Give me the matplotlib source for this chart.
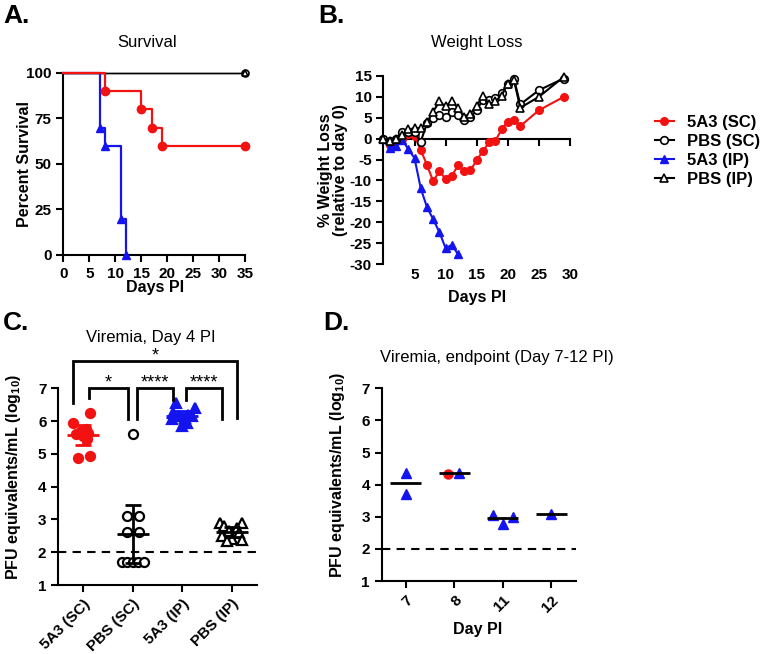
import matplotlib
matplotlib.use("Agg")
import matplotlib.pyplot as plt
import numpy as np

plt.rcParams['font.family'] = ['Liberation Sans', 'DejaVu Sans']
plt.rcParams['font.weight'] = 'bold'
plt.rcParams['axes.labelweight'] = 'bold'
plt.rcParams['axes.unicode_minus'] = False
plt.rcParams['mathtext.fontset'] = 'custom'
plt.rcParams['mathtext.rm'] = 'Liberation Sans:bold'
plt.rcParams['mathtext.default'] = 'rm'
plt.rcParams['axes.linewidth'] = 1.5

RED = '#f21212'
BLUE = '#1414ee'

# A. survival
surv_day_5a3_sc = [0, 8, 15, 17, 19, 35]
surv_pct_5a3_sc = [100, 90, 80, 70, 60, 60]
surv_day_5a3_ip = [0, 7, 8, 11, 12]
surv_pct_5a3_ip = [100, 70, 60, 20, 0]
surv_day_pbs = [0, 35]
surv_pct_pbs = [100, 100]

# B. weight loss (% relative to day 0)
wl_day = list(range(23)) + [25, 29]
wl_5a3_sc = [0, -1.5, -0.5, 0, 1.0, 0.7, -2.7, -6.3, -10.2, -7.7, -9.7, -8.9, -6.4,
             -7.7, -7.5, -5.2, -2.9, -0.9, -0.5, 2.2, 4.1, 4.5, 3.0, 6.8, 10.0]
wl_pbs_sc = [0, -0.5, 0, 1.7, 1.5, 1.5, -0.7, 3.7, 4.9, 5.7, 5.3, 6.5, 5.7,
             4.5, 5.1, 6.9, 9.3, 9.3, 9.7, 10.9, 13.2, 14.3, 8.2, 11.6, 14.4]
wl_pbs_ip = [0, -0.5, 0, 0.8, 2.2, 2.5, 2.5, 3.9, 6.5, 8.9, 7.7, 9.0, 7.3,
             5.3, 6.0, 7.9, 10.3, 8.2, 9.0, 10.3, 13.2, 14.0, 7.4, 10.0, 14.8]
wl_day_ip = list(range(13))
wl_5a3_ip = [0, -2.2, -1.8, -0.3, -2.5, -4.7, -11.9, -16.4, -19.3, -22.4, -26.2, -25.4, -27.7]
series_names = ['5A3 (SC)', 'PBS (SC)', '5A3 (IP)', 'PBS (IP)']

# C. viremia day 4 (log10 PFU eq/mL)
c_5a3_sc = [6.25, 5.95, 5.75, 5.70, 5.65, 5.60, 5.55, 5.45, 4.93, 4.88]
c_pbs_sc = [5.6, 3.1, 3.1, 2.63, 2.63, 1.7, 1.7, 1.7, 1.7, 1.7]
c_5a3_ip = [6.55, 6.40, 6.25, 6.20, 6.15, 6.15, 6.10, 6.05, 5.95, 5.85]
c_pbs_ip = [2.9, 2.9, 2.8, 2.75, 2.65, 2.6, 2.5, 2.4, 2.38, 2.35]
detect_limit = 2.0

# D. viremia at endpoint
d_days = ['7', '8', '11', '12']
d_ip_day = ['7', '7', '8', '11', '11', '11', '12']
d_ip_val = [4.37, 3.72, 4.37, 3.06, 2.78, 3.00, 3.10]
d_sc_day = ['8']
d_sc_val = [4.33]

# horizontal scatter offsets (layout only)
c_offsets = [[0.14, -0.21, 0.05, -0.05, 0.10, -0.15, 0.0, 0.08, 0.14, -0.10],
             [0.0, -0.12, 0.12, -0.12, 0.12, -0.22, -0.11, 0.0, 0.11, 0.22],
             [-0.12, 0.25, -0.18, 0.12, -0.06, 0.20, 0.05, -0.20, 0.10, 0.0],
             [-0.24, 0.21, -0.15, 0.10, -0.05, 0.15, -0.20, 0.0, 0.20, -0.10]]
d_ip_off = [0, 0, 0.10, -0.21, 0, 0.21, 0]
d_sc_off = [-0.14]
T95 = 2.262  # t value, n=10


def style(ax):
    for s in ('top', 'right'):
        ax.spines[s].set_visible(False)
    ax.tick_params(width=1.5, length=5, labelsize=11)


fig = plt.figure(figsize=(7.7, 6.54), dpi=100)

# ---------------- A
axA = fig.add_axes([0.0822, 0.6101, 0.2364, 0.2783])
style(axA)
axA.plot(surv_day_pbs, surv_pct_pbs, color='k', lw=1, marker='o', mfc='white', ms=5,
         mew=1.2, markevery=[1], clip_on=False, zorder=2)
axA.plot(surv_day_pbs, surv_pct_pbs, color='k', lw=1, marker='^', mfc='white', ms=4,
         mew=1.2, markevery=[1], clip_on=False, zorder=2)
axA.plot(surv_day_5a3_ip, surv_pct_5a3_ip, drawstyle='steps-post', color=BLUE, lw=1.6,
         marker='^', ms=6, markevery=slice(1, None), clip_on=False, zorder=3)
axA.plot(surv_day_5a3_sc, surv_pct_5a3_sc, drawstyle='steps-post', color=RED, lw=1.6,
         marker='o', ms=6, markevery=slice(1, None), clip_on=False, zorder=4)
axA.set_xlim(0, 35)
axA.set_ylim(0, 100)
axA.set_xticks(range(0, 36, 5))
axA.set_yticks(range(0, 101, 25))
axA.set_xlabel('Days PI', fontsize=11.5)
axA.set_ylabel('Percent Survival', fontsize=11.5)
axA.xaxis.set_label_coords(0.505, -0.181)
axA.yaxis.set_label_coords(-0.211, 0.5)
axA.xaxis.label.set_va('center')
axA.yaxis.label.set_va('center')
axA.text(0.463, 1.17, 'Survival', transform=axA.transAxes, ha='center', va='center',
         fontsize=12, fontweight='normal')

# ---------------- B
axB = fig.add_axes([0.498, 0.5963, 0.2422, 0.2875])
style(axB)
axB.spines['bottom'].set_position(('data', 0))
kw = dict(lw=1.5, ms=5.5, clip_on=False)
l1, = axB.plot(wl_day, wl_5a3_sc, color=RED, marker='o', zorder=3, **kw)
l3, = axB.plot(wl_day_ip, wl_5a3_ip, color=BLUE, marker='^', zorder=3, **kw)
l2, = axB.plot(wl_day, wl_pbs_sc, color='k', marker='o', mfc='white', mew=1.2, zorder=4, **kw)
l4, = axB.plot(wl_day, wl_pbs_ip, color='k', marker='^', mfc='white', mew=1.2, zorder=4, **kw)
axB.set_xlim(0, 30)
axB.set_ylim(-30, 15)
axB.set_xticks(range(5, 31, 5))
axB.set_yticks(range(-30, 16, 5))
axB.tick_params(axis='x', labelbottom=False)
sec = axB.secondary_xaxis('bottom')
sec.set_xticks(range(5, 31, 5))
sec.tick_params(length=0, labelsize=11, pad=3)
sec.spines['bottom'].set_visible(False)
axB.set_xlabel('Days PI', fontsize=11.5)
axB.xaxis.set_label_coords(0.5, -0.179)
axB.xaxis.label.set_va('center')
axB.set_ylabel('% Weight Loss\n(relative to day 0)', fontsize=11.5, linespacing=1.0)
axB.yaxis.set_label_coords(-0.27, 0.5)
axB.yaxis.label.set_va('center')
axB.text(0.5, 1.18, 'Weight Loss', transform=axB.transAxes, ha='center', va='center',
         fontsize=12, fontweight='normal')

fig.legend([l1, l2, l3, l4], series_names, loc='center left',
           bbox_to_anchor=(0.851, 0.769), frameon=False, fontsize=12,
           handlelength=1.1, handletextpad=0.8, labelspacing=0.25,
           borderaxespad=0, borderpad=0)

# ---------------- C
axC = fig.add_axes([0.0757, 0.1055, 0.2577, 0.3008])
style(axC)
c_data = [c_5a3_sc, c_pbs_sc, c_5a3_ip, c_pbs_ip]
c_colors = [RED, 'k', BLUE, 'k']
c_markers = ['o', 'o', '^', '^']
c_fill = [RED, 'white', BLUE, 'white']
for i, vals in enumerate(c_data):
    vals = np.array(vals)
    x = i + np.array(c_offsets[i])
    axC.plot(x, vals, ls='none', marker=c_markers[i], mfc=c_fill[i], mec=c_colors[i],
             ms=6.5, mew=1.6, zorder=2)
    m = vals.mean()
    ci = T95 * vals.std(ddof=1) / np.sqrt(len(vals))
    axC.hlines(m, i - 0.32, i + 0.32, color=c_colors[i], lw=2, zorder=3)
    axC.errorbar(i, m, yerr=ci, fmt='none', ecolor=c_colors[i], elinewidth=2,
                 capsize=6, capthick=2, zorder=3)
axC.axhline(detect_limit, color='k', lw=1.5, ls=(0, (4, 3)), zorder=1)
axC.set_xlim(-0.5, 3.5)
axC.set_ylim(1, 7)
axC.set_yticks(range(1, 8))
axC.set_xticks(range(4))
axC.set_xticklabels(series_names, rotation=45, ha='right', rotation_mode='anchor')
axC.set_ylabel('PFU equivalents/mL (log$_{10}$)', fontsize=11.5)
axC.yaxis.set_label_coords(-0.228, 0.552)
axC.yaxis.label.set_va('center')
axC.text(0.467, 1.26, 'Viremia, Day 4 PI', transform=axC.transAxes, ha='center',
         va='center', fontsize=12, fontweight='normal')

# significance brackets: (x left, x right, bar y, left end, right end, label)
c_brackets = [(-0.2, 3.1, 7.83, 6.54, 6.09, '*'),
              (0.12, 0.91, 7.0, 6.70, 6.06, '*'),
              (1.08, 1.81, 7.0, 6.06, 6.64, '****'),
              (2.07, 2.81, 7.0, 6.64, 6.06, '****')]
for x1, x2, yb, y1, y2, s in c_brackets:
    axC.plot([x1, x1, x2, x2], [y1, yb, yb, y2], color='k', lw=2, clip_on=False,
             solid_joinstyle='miter')
    axC.text((x1 + x2) / 2, yb + 0.02, s, ha='center', va='baseline', fontsize=13,
             fontweight='normal')

# ---------------- D
axD = fig.add_axes([0.4957, 0.1116, 0.252, 0.2947])
style(axD)
d_pos = {d: i for i, d in enumerate(d_days)}
x_ip = np.array([d_pos[d] for d in d_ip_day]) + np.array(d_ip_off)
x_sc = np.array([d_pos[d] for d in d_sc_day]) + np.array(d_sc_off)
axD.plot(x_ip, d_ip_val, ls='none', marker='^', color=BLUE, ms=6.5, zorder=2)
axD.plot(x_sc, d_sc_val, ls='none', marker='o', color=RED, ms=6.5, zorder=2)
all_day = d_ip_day + d_sc_day
all_val = d_ip_val + d_sc_val
for i, d in enumerate(d_days):
    m = np.mean([v for dd, v in zip(all_day, all_val) if dd == d])
    axD.hlines(m, i - 0.32, i + 0.32, color='k', lw=2, zorder=3)
axD.axhline(detect_limit, color='k', lw=1.5, ls=(0, (4, 3)), zorder=1)
axD.set_xlim(-0.5, 3.5)
axD.set_ylim(1, 7)
axD.set_yticks(range(1, 8))
axD.set_xticks(range(4))
axD.set_xticklabels(d_days, rotation=45, ha='right', rotation_mode='anchor')
axD.set_xlabel('Day PI', fontsize=11.5)
axD.xaxis.set_label_coords(0.496, -0.254)
axD.xaxis.label.set_va('center')
axD.set_ylabel('PFU equivalents/mL (log$_{10}$)', fontsize=11.5)
axD.yaxis.set_label_coords(-0.23, 0.552)
axD.yaxis.label.set_va('center')
axD.text(-0.01, 1.162, 'Viremia, endpoint (Day 7-12 PI)', transform=axD.transAxes,
         ha='left', va='center', fontsize=12, fontweight='normal')

# panel letters
for x, y, s in [(3, 23, 'A.'), (318, 23, 'B.'), (3, 330, 'C.'), (323, 330, 'D.')]:
    fig.text(x / 770, 1 - y / 654, s, fontsize=19, fontweight='bold', va='baseline')

fig.savefig('out.png', dpi=100)
